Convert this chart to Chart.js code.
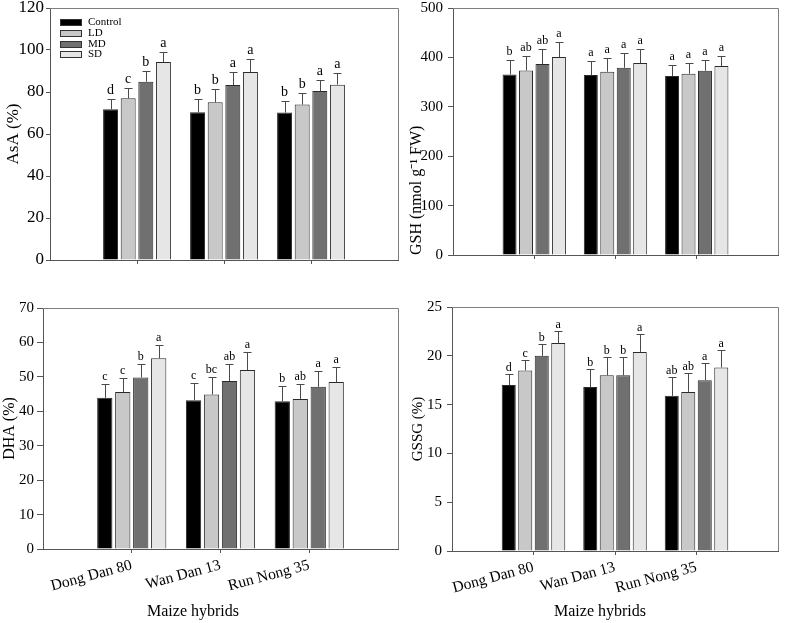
<!DOCTYPE html>
<html><head><meta charset="utf-8">
<script src="https://cdn.jsdelivr.net/npm/chart.js@4"></script>
<style>
html,body{margin:0;padding:0;background:#fff;}
body{width:787px;height:623px;position:relative;overflow:hidden;}
canvas{position:absolute;}
</style></head><body>
<canvas id="c1" width="400" height="270" style="left:0;top:0;width:400px;height:270px"></canvas>
<canvas id="c2" width="397" height="265" style="left:390px;top:0;width:397px;height:265px"></canvas>
<canvas id="c3" width="400" height="353" style="left:0;top:270px;width:400px;height:353px"></canvas>
<canvas id="c4" width="397" height="353" style="left:390px;top:270px;width:397px;height:353px"></canvas>
<script>
// ---------- data ----------
const categories = ['Dong Dan 80', 'Wan Dan 13', 'Run Nong 35'];
const treatments = ['Control', 'LD', 'MD', 'SD'];
const xAxisTitle = 'Maize hybrids';

// rows: Control, LD, MD, SD ; columns: categories
const asaMean = [[71.8, 70.3, 70.2], [77.0, 75.1, 74.0], [84.9, 83.3, 80.5], [94.3, 89.5, 83.5]];
const asaErr = [[4.7, 6.2, 5.5], [4.8, 6.2, 5.4], [4.9, 6.2, 5.2], [4.7, 6.1, 5.5]];
const asaLetters = [['d', 'b', 'b'], ['c', 'b', 'b'], ['b', 'a', 'a'], ['a', 'a', 'a']];
const asaTicks = [0, 20, 40, 60, 80, 100, 120];

const gshMean = [[365.5, 364.2, 362.2], [373.6, 371.0, 366.9], [386.5, 379.0, 373.0], [400.7, 388.5, 382.4]];
const gshErr = [[29.5, 28.8, 21.6], [29.8, 28.3, 21.6], [30.5, 29.8, 21.0], [29.7, 28.5, 21.0]];
const gshLetters = [['b', 'a', 'a'], ['ab', 'a', 'a'], ['ab', 'a', 'a'], ['a', 'a', 'a']];
const gshTicks = [0, 100, 200, 300, 400, 500];

const dhaMean = [[43.9, 43.2, 42.9], [45.6, 44.9, 43.6], [49.8, 48.8, 47.1], [55.4, 52.0, 48.5]];
const dhaErr = [[3.9, 4.9, 4.5], [4.0, 5.1, 4.4], [3.9, 5.0, 4.5], [3.9, 5.1, 4.5]];
const dhaLetters = [['c', 'c', 'b'], ['c', 'bc', 'ab'], ['b', 'ab', 'a'], ['a', 'a', 'a']];
const dhaTicks = [0, 10, 20, 30, 40, 50, 60, 70];

const gssgMean = [[17.0, 16.8, 15.9], [18.5, 18.0, 16.3], [20.0, 18.0, 17.5], [21.3, 20.4, 18.8]];
const gssgErr = [[1.1, 1.8, 1.9], [1.1, 1.9, 1.9], [1.2, 1.9, 1.8], [1.2, 1.8, 1.8]];
const gssgLetters = [['d', 'b', 'ab'], ['c', 'b', 'ab'], ['b', 'b', 'a'], ['a', 'a', 'a']];
const gssgTicks = [0, 5, 10, 15, 20, 25];

// ---------- style ----------
const FONT = "'Liberation Serif','Times New Roman',serif";
const barColors = ['#000000', '#c8c8c8', '#707070', '#e6e6e6'];
const AXIS = '#555555';

const extras = {
  id: 'extras',
  afterDatasetsDraw(chart, args, o) {
    const ctx = chart.ctx, ca = chart.chartArea, ys = chart.scales.y;
    ctx.save();
    ctx.lineWidth = 1;
    o.err.forEach((row, t) => {
      const meta = chart.getDatasetMeta(t);
      row.forEach((e, j) => {
        const bar = meta.data[j + 1];
        const v = o.mean[t][j];
        const yTop = Math.round(ys.getPixelForValue(v + e)) + 0.5;
        const x = Math.round(bar.x) + 0.5;
        ctx.strokeStyle = '#4a4a4a';
        ctx.beginPath();
        ctx.moveTo(x, bar.y); ctx.lineTo(x, yTop);
        ctx.moveTo(x - o.cap, yTop); ctx.lineTo(x + o.cap, yTop);
        ctx.stroke();
        ctx.fillStyle = '#000';
        ctx.font = o.letterSize + 'px ' + FONT;
        ctx.textAlign = 'center';
        ctx.textBaseline = 'alphabetic';
        ctx.fillText(o.letters[t][j], bar.x, yTop - o.gap);
      });
    });
    // frame top & right
    ctx.strokeStyle = '#7f7f7f';
    ctx.beginPath();
    ctx.moveTo(ca.left, Math.round(ca.top) + 0.5);
    ctx.lineTo(Math.round(ca.right) + 0.5, Math.round(ca.top) + 0.5);
    ctx.lineTo(Math.round(ca.right) + 0.5, ca.bottom);
    ctx.stroke();
    if (o.legend) {
      ctx.font = '11px ' + FONT;
      ctx.textAlign = 'left';
      ctx.textBaseline = 'middle';
      treatments.forEach((name, i) => {
        const yc = Math.round(ca.top + 13.7 + i * 10.9);
        ctx.fillStyle = barColors[i];
        ctx.fillRect(ca.left + 10, yc - 3, 22, 6);
        ctx.strokeStyle = '#333';
        ctx.strokeRect(ca.left + 10.5, yc - 2.5, 21, 6);
        ctx.fillStyle = '#000';
        ctx.fillText(name, ca.left + 38, yc + 0.5);
      });
    }
    if (o.xTitle) {
      ctx.font = '16px ' + FONT;
      ctx.fillStyle = '#000';
      ctx.textAlign = 'center';
      ctx.textBaseline = 'middle';
      ctx.fillText(xAxisTitle, ca.left + o.xTitleDx, o.xTitleY);
    }
    ctx.restore();
  }
};

function panel(id, p) {
  return new Chart(document.getElementById(id), {
    type: 'bar',
    data: {
      labels: ['', ...categories, ''],
      datasets: treatments.map((t, i) => ({
        label: t,
        data: [null, ...p.mean[i], null],
        backgroundColor: barColors[i],
        borderColor: '#2a2a2a',
        borderWidth: 1
      }))
    },
    options: {
      responsive: false, animation: false, events: [],
      categoryPercentage: 0.81, barPercentage: 0.85,
      layout: { padding: { top: p.top, right: p.right, left: 0, bottom: 0 } },
      plugins: {
        legend: { display: false }, tooltip: { enabled: false },
        extras: {
          mean: p.mean, err: p.err, letters: p.letters, letterSize: p.letterSize, gap: p.gap, cap: 4,
          legend: !!p.legend, xTitle: !!p.showX, xTitleDx: p.xTitleDx, xTitleY: p.xTitleY
        }
      },
      scales: {
        x: {
          offset: false,
          grid: {
            display: true, offset: false, drawOnChartArea: false, tickLength: 4,
            tickColor: c => (c.index === 0 || c.index === 4) ? 'rgba(0,0,0,0)' : AXIS
          },
          border: { color: AXIS },
          ticks: {
            display: !!p.showX, autoSkip: false, minRotation: 15, maxRotation: 15, padding: 3,
            color: '#000', font: { family: FONT, size: 15.5 }
          },
          afterFit: s => { s.height = p.xh; s.paddingLeft = 0; s.paddingRight = 0; }
        },
        y: {
          min: 0, max: p.ticks[p.ticks.length - 1],
          afterBuildTicks: s => { s.ticks = p.ticks.map(v => ({ value: v })); },
          grid: { drawOnChartArea: false, tickLength: p.tl, tickColor: AXIS },
          border: { color: AXIS },
          ticks: { padding: p.tp, color: '#000', font: { family: FONT, size: p.tickSize } },
          title: {
            display: true, text: p.title, align: p.titleAlign || 'center', color: '#000',
            font: { family: FONT, size: p.titleSize }, padding: { top: p.titlePad, bottom: 0 }
          },
          afterFit: s => { s.width = p.yw; s.paddingTop = 0; s.paddingBottom = 0; }
        }
      }
    },
    plugins: [extras]
  });
}

panel('c1', { mean: asaMean, err: asaErr, letters: asaLetters, ticks: asaTicks, title: 'AsA (%)',
  top: 8, right: 2, yw: 50, xh: 10, tl: 4, tp: 2, tickSize: 17, titleSize: 17, titlePad: 3,
  letterSize: 14, gap: 6, legend: true });
panel('c2', { mean: gshMean, err: gshErr, letters: gshLetters, ticks: gshTicks, title: 'GSH (nmol g\u207B\u00B9 FW)',
  titleAlign: 'start', top: 8, right: 9, yw: 63, xh: 10, tl: 5, tp: 5, tickSize: 15, titleSize: 16, titlePad: 17,
  letterSize: 12, gap: 6 });
panel('c3', { mean: dhaMean, err: dhaErr, letters: dhaLetters, ticks: dhaTicks, title: 'DHA (%)',
  top: 38, right: 2, yw: 43, xh: 74, tl: 6, tp: 3, tickSize: 15, titleSize: 16, titlePad: 0,
  letterSize: 12, gap: 5, showX: true, xTitleDx: 150, xTitleY: 342 });
panel('c4', { mean: gssgMean, err: gssgErr, letters: gssgLetters, ticks: gssgTicks, title: 'GSSG (%)',
  top: 37, right: 9, yw: 62, xh: 72, tl: 5, tp: 5, tickSize: 15, titleSize: 15, titlePad: 19,
  letterSize: 12, gap: 4, showX: true, xTitleDx: 148, xTitleY: 342 });
</script>
</body></html>
